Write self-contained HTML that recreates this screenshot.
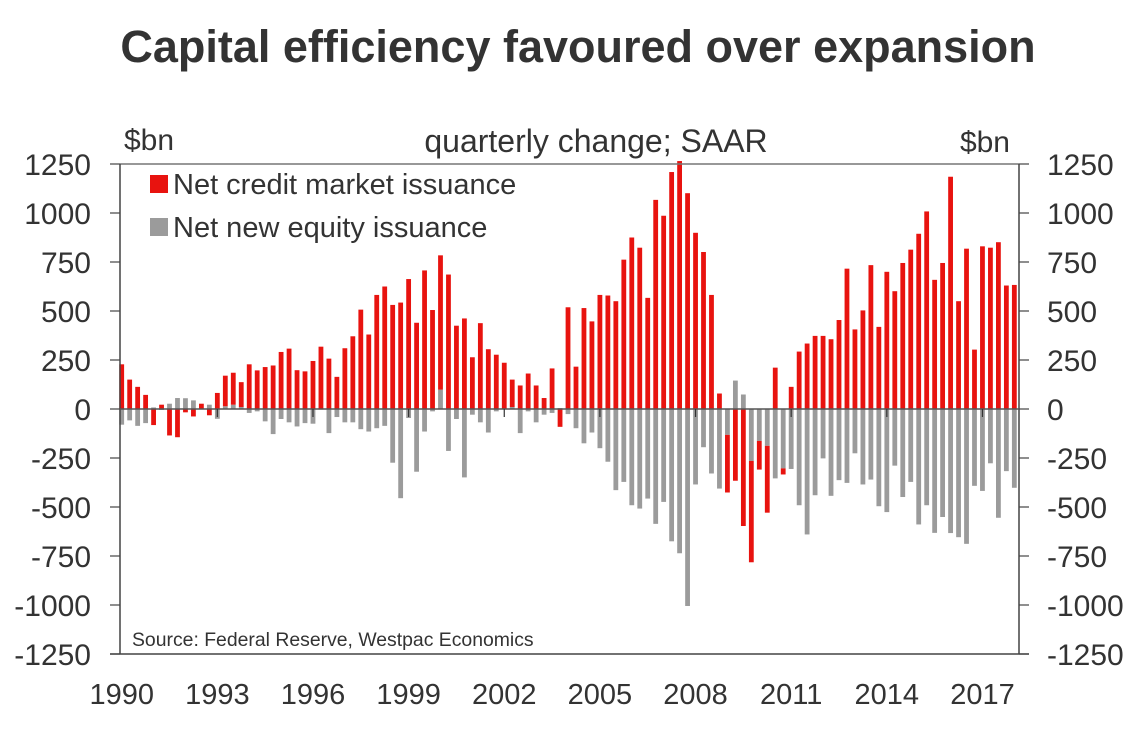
<!DOCTYPE html>
<html><head><meta charset="utf-8"><style>
body{margin:0;background:#fff;}
svg text{font-family:"Liberation Sans",Arial,sans-serif;fill:#333;}
</style></head><body>
<svg width="1147" height="734" viewBox="0 0 1147 734" id="chart">
<text x="578" y="62" text-anchor="middle" font-size="45" font-weight="bold">Capital efficiency favoured over expansion</text>
<text x="124" y="150" font-size="30">$bn</text>
<text x="596" y="152" text-anchor="middle" font-size="32">quarterly change; SAAR</text>
<text x="1010" y="152" text-anchor="end" font-size="30">$bn</text>
<g id="grid"></g>
<g id="bars"></g>
<g id="axes"></g>
<rect x="150" y="175" width="18" height="18" fill="#e8130f"/>
<text x="173" y="194" font-size="29">Net credit market issuance</text>
<rect x="150" y="218" width="18" height="18" fill="#9b9b9b"/>
<text x="173" y="237" font-size="29">Net new equity issuance</text>
<text x="132" y="646" font-size="19.4">Source: Federal Reserve, Westpac Economics</text>
</svg>
<script>
const startYear = 1990;
const credit = [228,150,113,72,-82,22,-135,-144,-17,-38,27,-32,82,156,163,127,228,197,214,222,291,308,198,192,245,318,257,164,310,371,507,380,582,625,531,543,663,440,707,505,685,686,425,462,264,438,305,277,236,140,120,181,120,56,207,-91,519,216,515,447,582,579,550,762,875,823,567,1067,986,1209,1265,1101,899,801,582,79,-294,-366,-597,-517,-146,-341,211,-31,113,293,334,373,373,356,454,716,406,503,734,419,700,601,745,813,894,1008,659,745,1185,550,818,303,830,823,851,630,633];
const equity = [-80,-58,-86,-72,8,-5,27,56,55,44,0,22,-50,14,22,10,-20,-12,-63,-128,-51,-68,-89,-72,-75,-3,-123,-41,-68,-68,-103,-115,-98,-86,-274,-455,-46,-320,-115,-12,99,-214,-51,-349,-29,-68,-120,-12,0,10,-123,-12,-68,-29,-20,5,-26,-98,-175,-120,-200,-269,-414,-372,-491,-508,-457,-586,-474,-675,-736,-1005,-385,-195,-329,-406,-132,145,74,-265,-163,-188,-354,-303,-306,-491,-640,-440,-252,-443,-363,-377,-226,-385,-360,-496,-526,-289,-449,-372,-589,-491,-632,-551,-633,-654,-688,-392,-418,-277,-555,-317,-402];
const yTicks = [1250,1000,750,500,250,0,-250,-500,-750,-1000,-1250];
const xTickYears = [1990,1993,1996,1999,2002,2005,2008,2011,2014,2017];

const NS='http://www.w3.org/2000/svg';
const L=120,R=1019,T=164,B=654;
const x0=121.7, step=7.97;
function xq(i){return x0+i*step;}
function y(v){return 409 - v*(B-T)/2500;}
function mk(tag,attrs,parent){const e=document.createElementNS(NS,tag);for(const k in attrs)e.setAttribute(k,attrs[k]);parent.appendChild(e);return e;}
const bars=document.getElementById('bars'), axes=document.getElementById('axes');
const bw=4.8;
for(let i=0;i<credit.length;i++){
  const g=equity[i], r=credit[i];
  const base = (r>=0)? Math.max(g,0) : Math.min(g,0);
  const r1 = base + r;
  if(g!==0){
    const e=mk('rect',{x:xq(i)-bw/2,y:Math.min(y(0),y(g)),width:bw,height:Math.abs(y(g)-y(0)),fill:'#9b9b9b'},bars);
    
    
  }
  const e2=mk('rect',{x:xq(i)-bw/2,y:Math.min(y(base),y(r1)),width:bw,height:Math.abs(y(r1)-y(base)),fill:'#e8130f'},bars);
  
  
}
let f=mk('line',{x1:L,y1:T,x2:R,y2:T,stroke:'#777','stroke-width':1.5},axes);

f=mk('line',{x1:L,y1:T,x2:L,y2:B,stroke:'#444','stroke-width':1.5},axes);

f=mk('line',{x1:R,y1:T,x2:R,y2:B,stroke:'#444','stroke-width':1.5},axes);

f=mk('line',{x1:L-10,y1:B,x2:R+10,y2:B,stroke:'#444','stroke-width':1.5},axes);

f=mk('line',{x1:L,y1:y(0),x2:R,y2:y(0),stroke:'#555','stroke-width':1.5},axes);

yTicks.forEach(v=>{
  mk('line',{x1:L-10,y1:y(v),x2:L,y2:y(v),stroke:'#444','stroke-width':1.2},axes);
  mk('line',{x1:R,y1:y(v),x2:R+10,y2:y(v),stroke:'#444','stroke-width':1.2},axes);
  const t=mk('text',{x:91,y:y(v)+11,'text-anchor':'end','font-size':30},axes);t.textContent=v;
  
  
  const t2=mk('text',{x:1047,y:y(v)+11,'font-size':30},axes);t2.textContent=v;
  
  
});
xTickYears.forEach(yr=>{
  const xx=xq((yr-startYear)*4);
  if(yr!==startYear) mk('line',{x1:xx,y1:y(0),x2:xx,y2:y(0)+8,stroke:'#333','stroke-width':1.2},axes);
  const t=mk('text',{x:xx,y:704,'text-anchor':'middle','font-size':29},axes);t.textContent=yr;
  
  
});
</script>
</body></html>
